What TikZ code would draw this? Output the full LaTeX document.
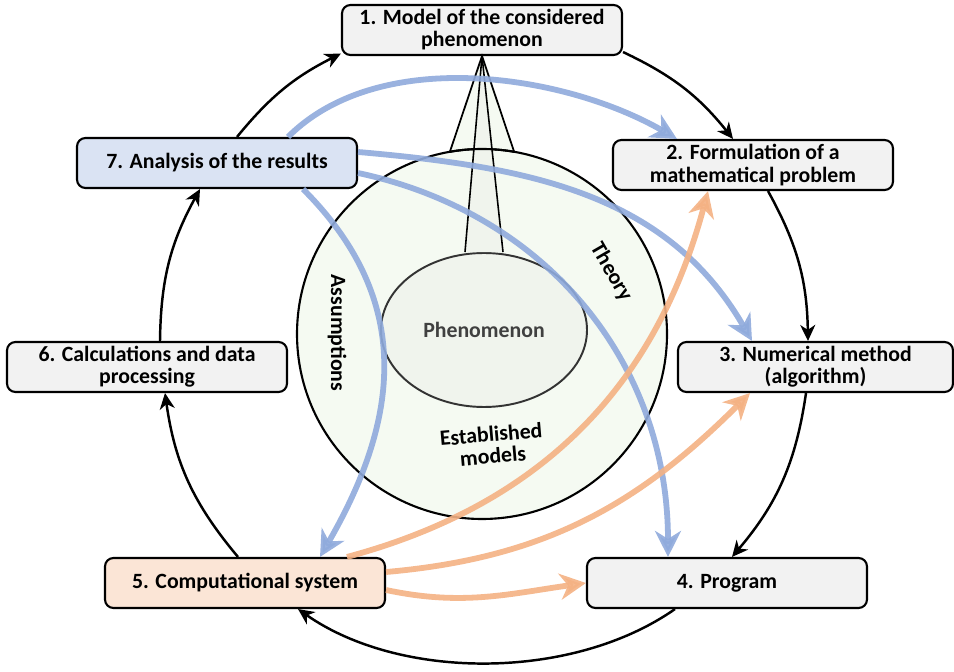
\documentclass[tikz,border=0pt]{standalone}
\usepackage{fontspec}
\setmainfont{Carlito}
\usetikzlibrary{arrows.meta,shapes.geometric}
\definecolor{boxgray}{RGB}{242,242,242}
\definecolor{boxblue}{RGB}{218,227,243}
\definecolor{boxpeach}{RGB}{251,229,214}
\definecolor{lineblue}{RGB}{143,170,220}
\definecolor{lineorange}{RGB}{244,177,131}
\definecolor{circfill}{RGB}{245,250,242}
\definecolor{ellfill}{RGB}{240,244,237}
\definecolor{textgray}{RGB}{64,64,64}

\begin{document}
\begin{tikzpicture}[
		font=\fontsize{12.4}{12.6}\selectfont\bfseries,
		stagebox/.style={draw, line width=1.2pt, rounded corners=0.17cm, fill=boxgray,
			minimum width=5.6cm, minimum height=1cm, align=center, inner sep=2pt},
		ring/.style={line width=1.4pt, -{Stealth[length=0.32cm, width=0.3cm, inset=0.1cm]}},
		flowblue/.style={draw=lineblue, line width=3.3pt, opacity=0.9,
			-{Stealth[length=0.52cm, width=0.52cm, inset=0.16cm]}},
		floworange/.style={draw=lineorange, line width=3.3pt, opacity=0.9,
			-{Stealth[length=0.52cm, width=0.52cm, inset=0.16cm]}}
	]
		\useasboundingbox (0,0) rectangle (19.08,13.42);
		% the seven stages
		\node[stagebox] (n1) at (9.64,12.82) {1. Model of the considered\\phenomenon};
		\node[stagebox] (n2) at (15.06,10.12) {2. Formulation of a\\mathematical problem};
		\node[stagebox, minimum width=5.5cm] (n3) at (16.31,6.08) {3. Numerical method\\(algorithm)};
		\node[stagebox] (n4) at (14.54,1.76) {4. Program};
		\node[stagebox, fill=boxpeach] (n5) at (4.90,1.76) {5. Computational system};
		\node[stagebox] (n6) at (2.94,6.08) {6. Calculations and data\\processing};
		\node[stagebox, fill=boxblue] (n7) at (4.34,10.16) {7. Analysis of the results};
		% outer cycle
		\draw[ring] ([yshift=0.08cm]n1.south east) to[bend left=13] ([xshift=-0.4cm]n2.north);
		\draw[ring] ([xshift=0.3cm]n2.south) to[bend left=14] ([xshift=-0.15cm]n3.north);
		\draw[ring] ([xshift=-0.19cm]n3.south) to[bend left=16] ([xshift=0.1cm]n4.north);
		\draw[ring] ([xshift=-1.04cm]n4.south) to[bend left=35, looseness=0.85] ([xshift=1.06cm]n5.south);
		\draw[ring] ([xshift=-0.14cm]n5.north) to[bend left=16] ([xshift=0.36cm]n6.south);
		\draw[ring] ([xshift=0.26cm]n6.north) to[bend left=14] ([xshift=-0.34cm]n7.south);
		\draw[ring] ([xshift=0.4cm]n7.north) to[bend left=12] ([yshift=0.05cm]n1.south west);
		% knowledge circle and cone
		\coordinate (cc) at (9.64,6.74);
		\fill[circfill] (n1.south) -- ([shift={(100:3.7)}]cc) -- ([shift={(80:3.7)}]cc) -- cycle;
		\draw[line width=1pt] ([shift={(100:3.7)}]cc) -- (n1.south) -- ([shift={(80:3.7)}]cc);
		\node[circle, draw, line width=1.2pt, fill=circfill, minimum size=7.4cm, inner sep=0] (circ) at (cc) {};
		\node[ellipse, draw=black!80, line width=1.1pt, fill=ellfill, minimum width=4.12cm,
			minimum height=3.08cm, inner sep=0, text=textgray] (ell) at (9.68,6.82) {Phenomenon};
		\fill[ellfill] (n1.south) -- ([xshift=-0.38cm]ell.north) -- ([xshift=0.38cm]ell.north) -- cycle;
		\draw[line width=1.2pt] ([shift={(100:3.7)}]cc) arc[start angle=100, end angle=80, radius=3.7];
		\draw[line width=0.9pt] ([xshift=-0.38cm]ell.north) -- (n1.south) -- ([xshift=0.38cm]ell.north);
		\node[rotate=-90] (assum) at (6.74,6.76) {Assumptions};
		\node[rotate=-60] (theory) at (12.22,7.98) {Theory};
		\node[rotate=5, align=center] (estab) at (9.84,4.52) {Established\\models};
		% feedback from the analysis
		\draw[flowblue] ([xshift=1.42cm]n7.north) to[out=45, in=150, looseness=0.85] ([xshift=-1.52cm]n2.north);
		\draw[flowblue] ([yshift=0.22cm]n7.east) to[out=-5, in=120] ([xshift=-1.27cm]n3.north);
		\draw[flowblue] ([yshift=-0.2cm]n7.east) to[out=-12, in=90] ([xshift=-1.18cm]n4.north);
		\draw[flowblue] ([xshift=1.72cm]n7.south) to[out=-45, in=60, looseness=1.1] ([xshift=1.5cm]n5.north);
		% demands of the computational system
		\draw[floworange] ([xshift=2.04cm]n5.north) to[out=15, in=-105] ([xshift=-0.9cm]n2.south);
		\draw[floworange] ([yshift=0.22cm]n5.east) to[out=5, in=-135] ([xshift=-1.31cm]n3.south);
		\draw[floworange] ([yshift=-0.14cm]n5.east) to[out=-12, in=188] (n4.west);
	\end{tikzpicture}
\end{document}
